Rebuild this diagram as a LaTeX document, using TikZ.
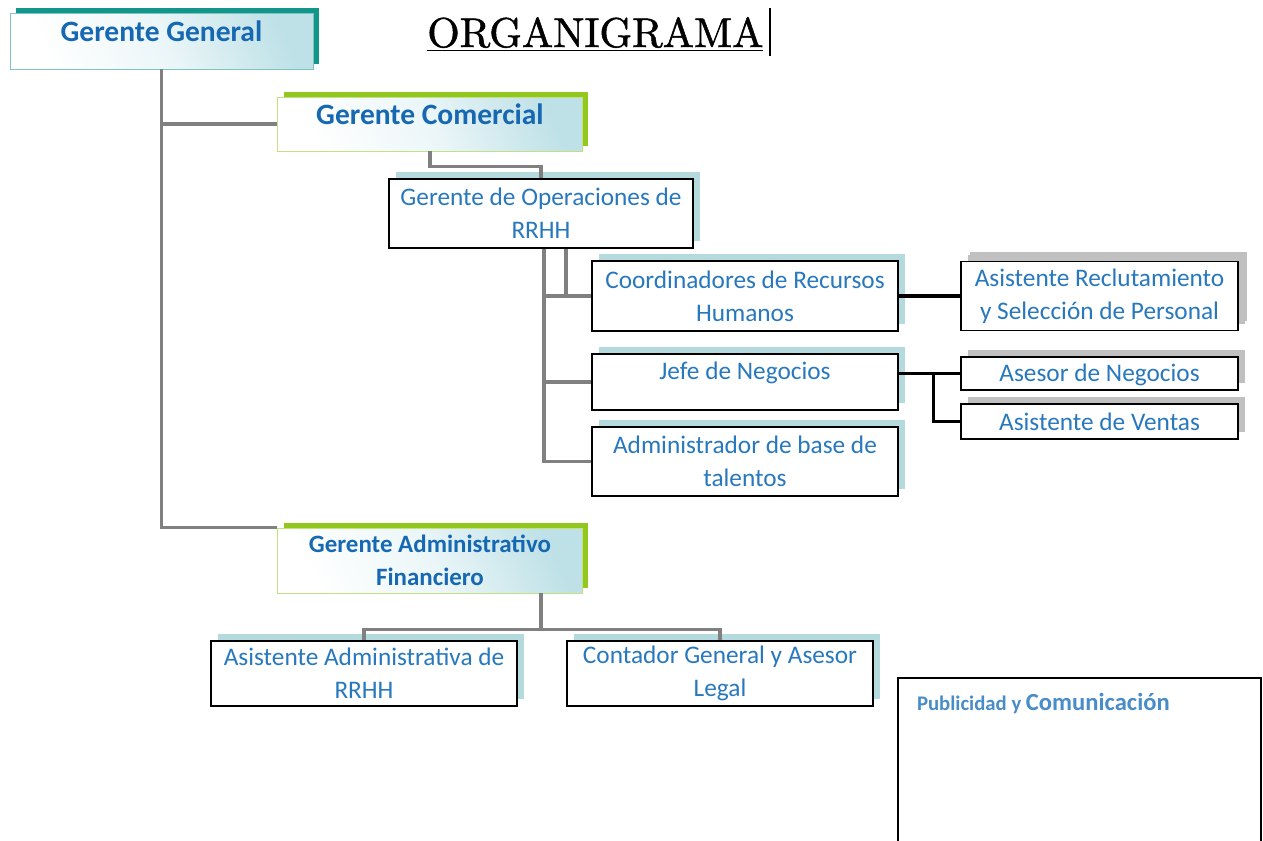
\documentclass[tikz,border=0pt]{standalone}
\usepackage{fontspec}
\newfontfamily\calibri{Carlito}
\newfontfamily\titlefont{lmroman10-regular}[Extension=.otf, FakeBold=1.2]
\definecolor{orgblue}{RGB}{22,104,178}
\definecolor{orgtext}{RGB}{40,120,190}
\definecolor{orgteal}{RGB}{18,150,140}
\definecolor{orggreen}{RGB}{146,200,30}
\definecolor{orgtint}{RGB}{190,225,231}
\definecolor{orgshade}{RGB}{180,218,222}
\definecolor{orggray}{RGB}{128,128,128}
\definecolor{orgsilver}{RGB}{192,192,192}
\usetikzlibrary{calc,shadows}

\tikzset{
  headbox/.style={rectangle, draw=#1!55, line width=0.5pt, top color=orgtint, bottom color=white, middle color=orgtint!30, shading angle=-65,
    drop shadow={shadow xshift=0.12cm, shadow yshift=0.11cm, opacity=1, fill=#1},
    minimum width=6.1cm, align=center, inner sep=1pt, text=orgblue, font=\calibri\bfseries\fontsize{16.8}{18.8}\selectfont},
  unitbox/.style={rectangle, draw=black, line width=0.8pt, fill=white,
    drop shadow={shadow xshift=0.14cm, shadow yshift=0.14cm, opacity=1, fill=#1},
    minimum width=6.12cm, align=center, inner sep=1pt, text=orgtext, font=\calibri\fontsize{14.4}{18.8}\selectfont},
  unitbox/.default=orgshade,
  tree/.style={draw=orggray, line width=2pt},
  link/.style={draw=black, line width=1.8pt}
}

\begin{document}
\begin{tikzpicture}[x=0.02cm, y=-0.02cm]
  \useasboundingbox (0,0) rectangle (1263,840);

  %% Title
  \node[anchor=base west, inner sep=0pt, font=\titlefont\fontsize{23.7}{28}\selectfont] (title) at (427,47) {\underline{ORGANIGRAMA}};
  \draw[line width=0.9pt] (770,8) -- (770,56);

  %% Gerencias
  \node[headbox=orgteal, minimum width=6.06cm, minimum height=1.12cm, text depth=0.4cm] (gg) at (161.5,41) {Gerente General};
  \node[headbox=orggreen, minimum height=1.08cm, text depth=0.4cm] (gc) at (430,124) {Gerente Comercial};
  \node[headbox=orggreen, minimum height=1.30cm, font=\calibri\bfseries\fontsize{14.2}{18.8}\selectfont] (gaf) at (430,560.5) {Gerente Administrativo\\Financiero};

  %% Area de RRHH
  \node[unitbox, minimum width=6.08cm, minimum height=1.38cm] (gop) at (541,213.5) {Gerente de Operaciones de\\RRHH};
  \node[unitbox, minimum height=1.40cm] (coord) at (745,296) {Coordinadores de Recursos\\Humanos};
  \node[unitbox, minimum height=1.12cm, text depth=0.46cm] (jefe) at (745,382) {Jefe de Negocios};
  \node[unitbox, minimum height=1.38cm] (admb) at (745,461.5) {Administrador de base de\\talentos};

  %% Asistentes y asesores
  \node[unitbox=orgsilver, minimum width=5.54cm, minimum height=1.38cm, drop shadow={shadow xshift=0.18cm, shadow yshift=0.2cm, opacity=1, fill=orgsilver}] (recl) at (1099.5,296) {Asistente Reclutamiento\\y Selección de Personal};
  \node[unitbox=orgsilver, minimum width=5.54cm, minimum height=0.66cm, text height=0.42cm] (asesor) at (1099.5,373.5) {Asesor de Negocios};
  \node[unitbox=orgsilver, minimum width=5.54cm, minimum height=0.70cm, text height=0.38cm] (ventas) at (1099.5,421.5) {Asistente de Ventas};

  %% Area administrativa
  \node[unitbox, minimum height=1.30cm] (aadm) at (364,673.5) {Asistente Administrativa de\\RRHH};
  \node[unitbox, minimum height=1.30cm] (cont) at (720,673.5) {Contador General y Asesor\\Legal};

  %% Publicidad
  \node[draw=black, line width=1.1pt, fill=white, minimum width=7.26cm, minimum height=4cm, inner sep=0pt] (pub) at (1079.5,778)
    {\parbox[c][3.4cm][t]{6.5cm}{\calibri\bfseries\color{orgtext!85}{\fontsize{11.8}{14}\selectfont Publicidad y }{\fontsize{14}{16}\selectfont Comunicación}}};

  %% Lineas de mando
  \draw[tree] (gg.south) |- (gc.west);
  \draw[tree] (gg.south) |- (gaf.north west);
  \draw[tree] (gc.south) -- ++(0,15) -| (gop.north);
  \coordinate (opl) at ($(gop.south)+(3,0)$);
  \coordinate (opr) at ($(gop.south)+(25,0)$);
  \draw[tree] (opl) |- (admb.west);
  \draw[tree] (opl |- coord.west) -- (coord.west);
  \draw[tree] (opl |- jefe.west) -- (jefe.west);
  \draw[tree] (opr) -- (opr |- coord.west);
  \coordinate (gafo) at ($(gaf.south east)+(-42,0)$);
  \draw[tree] (gafo) -- ++(0,36) coordinate (fork);
  \draw[tree] (aadm.north) |- (fork) -| (cont.north);

  \draw[link] (coord.east) -- (recl.west);
  \coordinate (jn) at (jefe.east |- asesor.west);
  \draw[link] (jn) -- (asesor.west);
  \draw[link] ($(jn)!0.56!(asesor.west)$) |- (ventas.west);
\end{tikzpicture}
\end{document}
